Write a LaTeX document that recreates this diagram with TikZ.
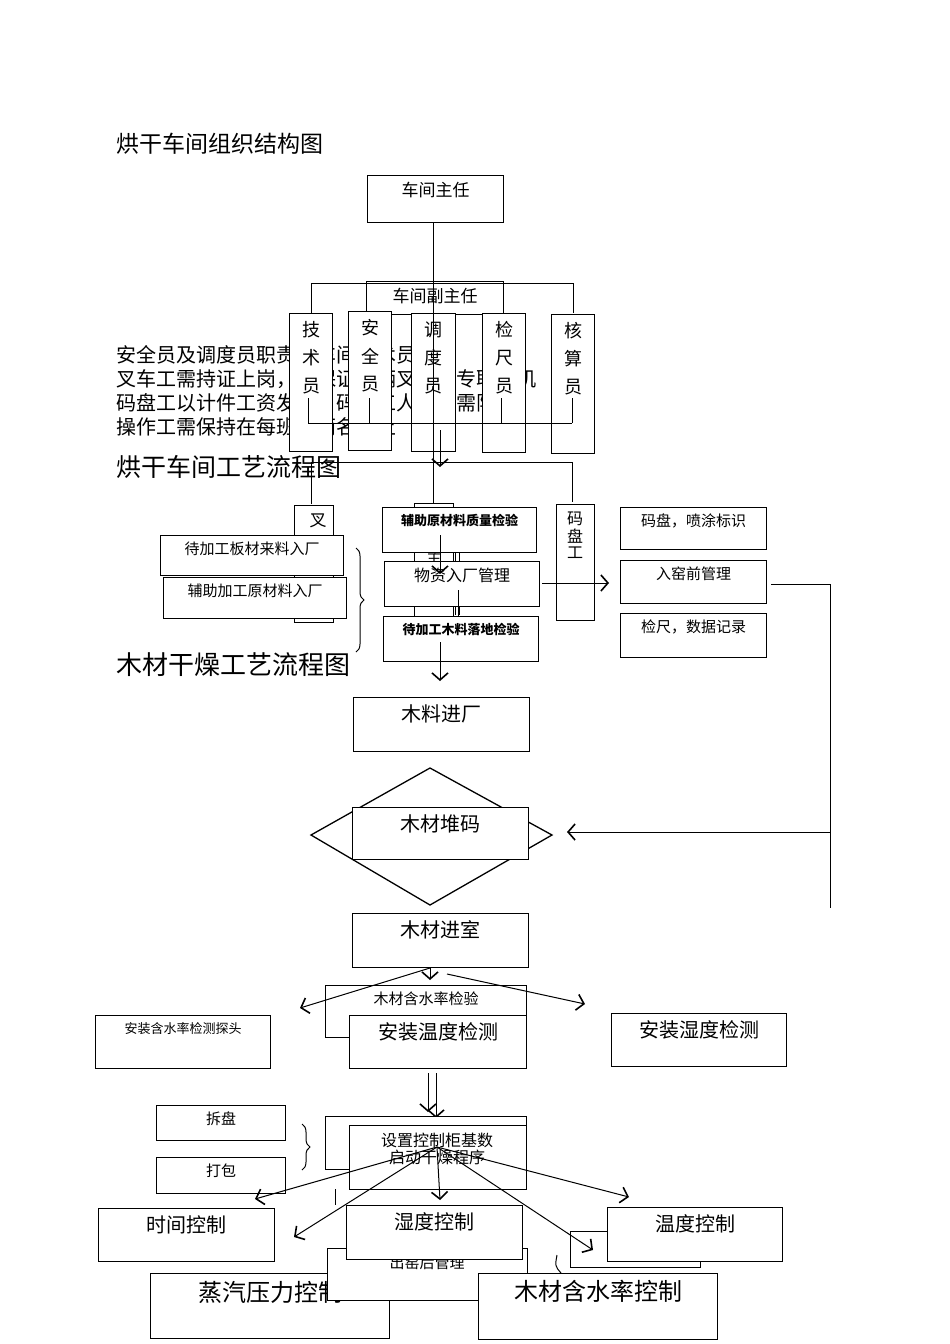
\documentclass[tikz,border=0pt]{standalone}
\usepackage{fontspec}
\setmainfont{Noto Sans CJK SC}
\usetikzlibrary{arrows.meta,decorations.pathreplacing}
\newcommand\bx[6]{\node[bx,minimum width={(#4-#2)*1pt},minimum height={(#5-#3)*1pt}] (#1) at (#2,#3) {};%
 \node[font=#6,anchor=north,inner sep=0] (#1t) at ([yshift=-7pt]#1.north) {\csname txt#1\endcsname};}
\tikzset{bx/.style={draw,fill=white,line width=1.3pt,anchor=north west,inner sep=0},
 ln/.style={line width=1pt},
 ar/.style={line width=1pt,-{Straight Barb[length=7pt,width=16pt,line width=1.6pt]}}}
\newcommand\fs[1]{\fontsize{#1}{#1}\selectfont}
\begin{document}
\begin{tikzpicture}[x=1pt,y=-1pt]
\useasboundingbox (0,0) rectangle (950,1344);
\node[anchor=west,font=\fs{23}] (t1) at (113,144) {烘干车间组织结构图};
\foreach \y/\t in {355/安全员及调度员职责由车间技术员兼任,379/叉车工需持证上岗，且保证每辆叉车有专职司机,403/码盘工以计件工资发放，码盘工人数不需限制,427/操作工需保持在每班次两名以上}
  \node[anchor=west,font=\fs{20}] at (113,\y) {\t};
\node[anchor=west,font=\fs{25}] (t2) at (113,467) {烘干车间工艺流程图};
\node[anchor=west,font=\fs{26}] (t3) at (113,665) {木材干燥工艺流程图};
% org chart
\def\txtzr{车间主任}\bx{zr}{367}{175}{503}{222}{\fs{17}}
\def\txtfzr{车间副主任}\bx{fzr}{366}{281}{503}{314}{\fs{17}}
\coordinate (c1) at (433,222); \coordinate (c2) at (433,503);
\draw[ln] (c1) -- (c2);
\coordinate (h1) at (311,283); \coordinate (h2) at (573,283);
\draw[ln] (311,313) -- (h1) -- (h2) -- (573,313);
\foreach \n/\a/\b/\c/\d/\p/\q/\r in {js/289/313/332/451/技/术/员,aq/348/311/391/450/安/全/员,dd/411/313/455/451/调/度/员,jc/482/313/525/452/检/尺/员,hs/551/314/594/453/核/算/员}{
 \node[bx,minimum width={(\c-\a)*1pt},minimum height={(\d-\b)*1pt}] (\n) at (\a,\b) {};
 \node[font=\fs{18},inner sep=0] at ([yshift=-17pt]\n.north) {\p};
 \node[font=\fs{18},inner sep=0] at ([yshift=-45pt]\n.north) {\q};
 \node[font=\fs{18},inner sep=0] at ([yshift=-73pt]\n.north) {\r};}
\draw[ln] (433,313) -- (433,503);
\foreach \x in {308,369,501,572} \draw[ln] (\x,398) -- (\x,423);
\draw[ln] (308,423) -- (572,423);
\coordinate (a1) at (440,430); \coordinate (a2) at (440,467);
\draw[ar] (a1) -- (a2);
\draw[ln] (311,504) -- (311,462) -- (572,462) -- (572,502);
% process
\node[bx,minimum width=39pt,minimum height=117pt] (cc) at (294,505) {};
\node[font=\fs{17},anchor=north] at (318,510) {叉};
\node[bx,minimum width=39pt,minimum height=119pt] (zz) at (414,503) {};
\node[font=\fs{15}] at (434,558) {主};
\def\txtba{待加工板材来料入厂}\bx{ba}{160}{535}{343}{575}{\fs{15}}
\def\txtfz{辅助加工原材料入厂}\bx{fz}{163}{577}{346}{618}{\fs{15}}
\draw[ln,decorate,decoration={brace,amplitude=8pt}] (356,548) -- (356,652);
\def\txtzl{\bfseries 辅助原材料质量检验}\bx{zl}{382}{507}{536}{552}{\fs{13}}
\draw[ln] (455,552) -- (455,615); \draw[ln] (459,552) -- (459,615);
\def\txtwz{物资入厂管理}\bx{wz}{384}{561}{539}{606}{\fs{16}}
\def\txtld{\bfseries 待加工木料落地检验}\bx{ld}{383}{616}{538}{661}{\fs{13}}
\draw[ln] (458,590) -- (458,616);
\coordinate (b1) at (440,535); \coordinate (b2) at (440,574);
\draw[ar] (b1) -- (b2);
\coordinate (b3) at (440,642); \coordinate (b4) at (440,681);
\draw[ar] (b3) -- (b4);
\node[bx,minimum width=38pt,minimum height=116pt] (mp) at (556,504) {};
\node[font=\fs{16},inner sep=0] at (575,519) {码};
\node[font=\fs{16},inner sep=0] at (575,536) {盘};
\node[font=\fs{16},inner sep=0] at (575,553) {工};
\coordinate (d1) at (542,583); \coordinate (d2) at (609,583);
\draw[ar] (d1) -- (d2);
\def\txtmb{码盘，喷涂标识}\bx{mb}{620}{507}{766}{549}{\fs{15}}
\def\txtrq{入窑前管理}\bx{rq}{620}{560}{766}{603}{\fs{15}}
\def\txtjr{检尺，数据记录}\bx{jr}{620}{613}{766}{657}{\fs{15}}
\coordinate (e1) at (771,584); \coordinate (e2) at (830,584); \coordinate (e3) at (830,908);
\coordinate (e4) at (830,832); \coordinate (e5) at (567,832);
\draw[ln] (e1) -- (e2) -- (e3);
\draw[ar] (e4) -- (e5);
% drying
\def\txtjcc{木料进厂}\bx{jcc}{353}{697}{529}{751}{\fs{20}}
\draw[line width=1.3pt] (311,835) -- (430,768) -- (552,835) -- (430,905) -- cycle;
\def\txtdm{木材堆码}\bx{dm}{352}{807}{528}{859}{\fs{20}}
\def\txtjss{木材进室}\bx{jss}{352}{913}{528}{967}{\fs{20}}
\def\txtjy{木材含水率检验}\bx{jy}{325}{985}{526}{1037}{\fs{15}}
\coordinate (f0) at (430,967);
\draw[ar] (f0) -- (430,980);
\draw[ar] (430,968) -- (300,1008);
\draw[ar] (447,974) -- (585,1004);
\def\txtwd{安装温度检测}\bx{wd}{349}{1015}{526}{1068}{\fs{20}}
\def\txttt{安装含水率检测探头}\bx{tt}{95}{1015}{270}{1068}{\fs{13}}
\def\txtsd{安装湿度检测}\bx{sd}{611}{1013}{786}{1066}{\fs{20}}
\draw[ar] (428,1073) -- (428,1112);
\draw[ar] (436,1073) -- (436,1118);
\def\txtcp{拆盘}\bx{cp}{156}{1105}{285}{1140}{\fs{15}}
\def\txtdb{打包}\bx{db}{156}{1157}{285}{1193}{\fs{15}}
\draw[ln,decorate,decoration={brace,amplitude=8pt}] (302,1124) -- (302,1170);
\node[bx,minimum width=201pt,minimum height=53pt] (bk) at (325,1116) {};
\node[bx,minimum width=177pt,minimum height=64pt] (sz) at (349,1125) {};
\node[font=\fs{16},inner sep=0] (szt1) at (437,1140) {设置控制柜基数};
\node[font=\fs{16},inner sep=0] (szt2) at (437,1157) {启动干燥程序};
\coordinate (g0) at (437,1147);
\draw[ln] (335,1189) -- (335,1205);
\node[bx,minimum width=239pt,minimum height=65pt] (zq) at (150,1273) {};
\node[font=\fs{24},anchor=north,inner sep=0] at (270,1281) {蒸汽压力控制};
\node[bx,minimum width=200pt,minimum height=52pt] (ck) at (327,1248) {};
\node[font=\fs{15},anchor=north,inner sep=0] at (427,1256) {出窑后管理};
\def\txtsk{湿度控制}\bx{sk}{346}{1205}{522}{1259}{\fs{20}}
\def\txtsj{时间控制}\bx{sj}{98}{1208}{274}{1261}{\fs{20}}
\node[bx,minimum width=130pt,minimum height=36pt] (sm) at (570,1231) {};
\def\txtwk{温度控制}\bx{wk}{607}{1207}{782}{1261}{\fs{20}}
\draw[ln] (561,1273) .. controls (555,1266) .. (557,1255);
\def\txthsk{木材含水率控制}\bx{hsk}{478}{1273}{717}{1339}{\fs{24}}
\draw[ar] (g0) -- (255,1199);
\draw[ar] (g0) -- (294,1237);
\draw[ar] (g0) -- (440,1200);
\draw[ar] (g0) -- (593,1250);
\draw[ar] (g0) -- (629,1197);
\end{tikzpicture}
\end{document}
